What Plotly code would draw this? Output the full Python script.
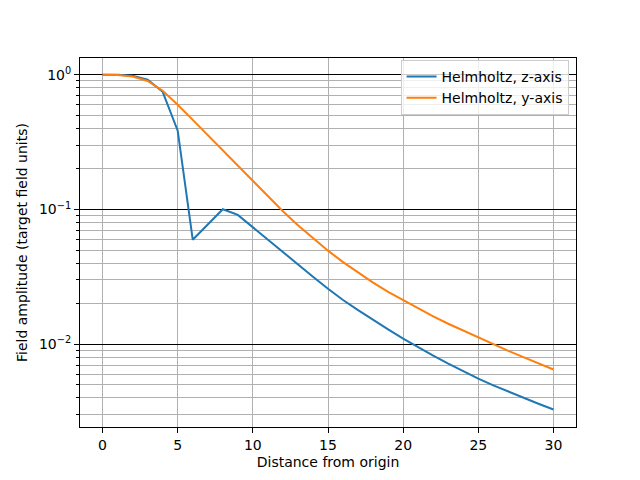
import plotly.graph_objects as go

distance = list(range(0, 31))

helmholtz_z = [1.0, 1.0, 0.985, 0.918, 0.748, 0.385, 0.0597, 0.0774, 0.1005, 0.0912,
               0.0736, 0.0597, 0.0483, 0.0391, 0.0317, 0.0258, 0.0213, 0.0179, 0.0151,
               0.0129, 0.0110, 0.00948, 0.00822, 0.00718, 0.00630, 0.00556, 0.00495,
               0.00445, 0.00401, 0.00362, 0.00328]

helmholtz_y = [1.0, 0.9954, 0.9705, 0.8995, 0.7621, 0.5998, 0.4624, 0.3556, 0.2735,
               0.2104, 0.1622, 0.1250, 0.0970, 0.0764, 0.0611, 0.0495, 0.0407, 0.0340,
               0.0287, 0.0245, 0.0212, 0.0184, 0.0161, 0.0142, 0.0126, 0.0112, 0.00998,
               0.00893, 0.00802, 0.00721, 0.00650]

x_ticks = [0, 5, 10, 15, 20, 25, 30]
y_ticks = [1, 0.1, 0.01]
y_tick_labels = ["10<sup>0</sup>", "10<sup>\u22121</sup>", "10<sup>\u22122</sup>"]
y_minor_ticks = [m * d for d in (0.001, 0.01, 0.1) for m in range(2, 10)]

font = "DejaVu Sans"

fig = go.Figure()
fig.add_trace(go.Scatter(x=distance, y=helmholtz_z, mode="lines",
                         name="Helmholtz, z-axis",
                         line=dict(color="#1f77b4", width=2)))
fig.add_trace(go.Scatter(x=distance, y=helmholtz_y, mode="lines",
                         name="Helmholtz, y-axis",
                         line=dict(color="#ff7f0e", width=2)))

fig.update_layout(
    width=640, height=480,
    margin=dict(l=80, r=64, t=58, b=53),
    paper_bgcolor="white", plot_bgcolor="white",
    font=dict(family=font, size=14, color="black"),
    legend=dict(x=0.985, y=0.995, xanchor="right", yanchor="top",
                bgcolor="rgba(255,255,255,0.8)", bordercolor="#cccccc",
                borderwidth=1, font=dict(size=14)),
    xaxis=dict(
        range=[-1.5, 31.5], tickmode="array", tickvals=x_ticks,
        showgrid=True, gridcolor="#b0b0b0", gridwidth=1,
        showline=True, linecolor="black", linewidth=1, mirror=True,
        ticks="outside", ticklen=5, tickcolor="black",
        zeroline=False,
        title=dict(text="Distance from origin", standoff=5, font=dict(size=14)),
    ),
    yaxis=dict(
        type="log", range=[-2.614, 0.1245],
        tickmode="array", tickvals=y_ticks, ticktext=y_tick_labels,
        showgrid=True, gridcolor="black", gridwidth=1,
        showline=True, linecolor="black", linewidth=1, mirror=True,
        ticks="outside", ticklen=5, tickcolor="black",
        zeroline=False,
        minor=dict(tickmode="array", tickvals=y_minor_ticks, ticks="outside",
                   ticklen=3, tickcolor="black", showgrid=True,
                   gridcolor="#b0b0b0", gridwidth=1),
        title=dict(text="Field amplitude (target field units)", standoff=8,
                   font=dict(size=14)),
    ),
)

fig.write_html("out.html")
